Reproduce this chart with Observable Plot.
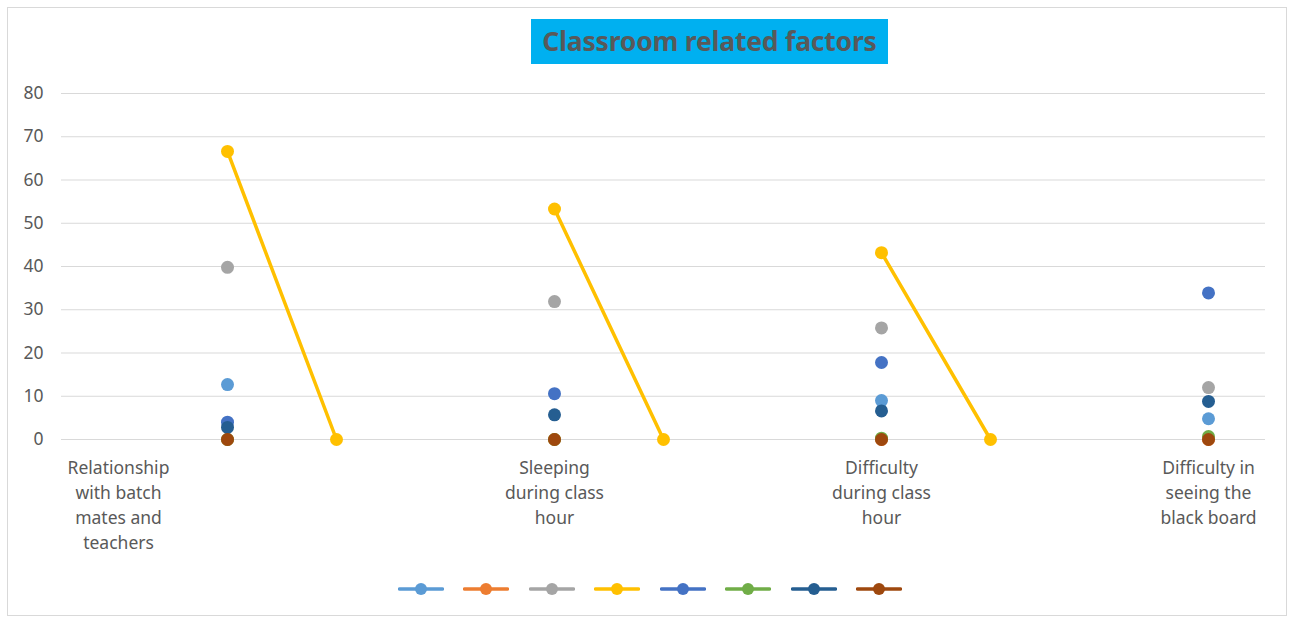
<!DOCTYPE html>
<html>
<head>
<meta charset="utf-8">
<script src="https://cdn.jsdelivr.net/npm/d3@7"></script>
<script src="https://cdn.jsdelivr.net/npm/@observablehq/plot@0.6"></script>
<style>
  html, body { margin: 0; padding: 0; background: #fff; }
  #wrap { position: relative; width: 1289px; height: 619px; overflow: hidden; font-family: "Noto Sans", sans-serif; }
  #frame { position: absolute; left: 7px; top: 7px; width: 1280px; height: 609px; border: 1px solid #d9d9d9; box-sizing: border-box; }
  #title { position: absolute; left: 531px; top: 19px; width: 357px; height: 45px; background: #00B0F0;
           color: #595959; font-weight: bold; font-size: 26.5px; line-height: 45px; text-align: center; white-space: nowrap; letter-spacing: -0.2px; }
  #chart { position: absolute; left: 0; top: 0; }
  #legend { position: absolute; left: 0; top: 578px; width: 1289px; height: 22px; display: flex; justify-content: center; gap: 19.5px; padding-left: 11px; box-sizing: border-box; }
  #legend svg { display: block; }
</style>
</head>
<body>
<div id="wrap">
  <div id="frame"></div>
  <div id="chart"></div>
  <div id="title">Classroom related factors</div>
  <div id="legend"></div>
</div>
<script>
// Category slots along the x axis (only some carry a label)
const categories = [
  "Relationship\nwith batch\nmates and\nteachers", "", "", "",
  "Sleeping\nduring class\nhour", "", "",
  "Difficulty\nduring class\nhour", "", "",
  "Difficulty in\nseeing the\nblack board"
];
const yTicks = [0, 10, 20, 30, 40, 50, 60, 70, 80];

// Series values per slot (null = no point)
const seriesLightBlue = [null, 12.7, null, null, null, null, null, 9.0, null, null, 4.8];
const seriesOrange    = [null, 0, null, null, 0, null, null, 0, null, null, 0];
const seriesGray      = [null, 39.8, null, null, 31.9, null, null, 25.8, null, null, 12.0];
const seriesYellow    = [null, 66.6, 0, null, 53.3, 0, null, 43.2, 0, null, null];
const seriesBlue      = [null, 4.0, null, null, 10.6, null, null, 17.8, null, null, 33.9];
const seriesGreen     = [null, 0, null, null, 0, null, null, 0.3, null, null, 0.7];
const seriesDarkBlue  = [null, 2.8, null, null, 5.7, null, null, 6.6, null, null, 8.8];
const seriesBrown     = [null, 0, null, null, 0, null, null, 0, null, null, 0];

const seriesNames = ["S1", "S2", "S3", "S4", "S5", "S6", "S7", "S8"];
const seriesColors = ["#5B9BD5", "#ED7D31", "#A5A5A5", "#FFC000", "#4472C4", "#70AD47", "#255E91", "#9E480E"];
const seriesValues = [seriesLightBlue, seriesOrange, seriesGray, seriesYellow, seriesBlue, seriesGreen, seriesDarkBlue, seriesBrown];

const slots = categories.map((_, i) => i);
const rows = [];
seriesValues.forEach((vals, s) => {
  vals.forEach((v, i) => rows.push({series: seriesNames[s], slot: i, value: v}));
});

const chart = Plot.plot({
  width: 1289,
  height: 570,
  marginLeft: 61,
  marginRight: 24,
  marginTop: 93,
  marginBottom: 131,
  style: { fontFamily: "Noto Sans, sans-serif", fontSize: "17.5px", color: "#595959", background: "transparent" },
  x: { type: "point", domain: slots, padding: 0.5 },
  y: { domain: [0, 80], ticks: yTicks },
  color: { domain: seriesNames, range: seriesColors },
  marks: [
    Plot.gridY(yTicks, { stroke: "#d9d9d9", strokeOpacity: 1, strokeWidth: 1 }),
    Plot.axisY(yTicks, { tickSize: 0, tickPadding: 18, label: null, fontSize: 17.5, fill: "#595959" }),
    Plot.axisX(slots, { tickSize: 0, tickPadding: 17, label: null, fontSize: 17.5, fill: "#595959",
      tickFormat: i => categories[i], lineHeight: 1.43 }),
    Plot.line(rows, { x: "slot", y: "value", z: "series", stroke: "series", strokeWidth: 3.5 }),
    Plot.dot(rows.filter(d => d.value != null), { x: "slot", y: "value", fill: "series", r: 6.5, stroke: null })
  ]
});
document.getElementById("chart").appendChild(chart);

// Legend: line + marker swatches, no text (as in the reference)
const legend = document.getElementById("legend");
seriesColors.forEach(c => {
  const ns = "http://www.w3.org/2000/svg";
  const svg = document.createElementNS(ns, "svg");
  svg.setAttribute("width", 46); svg.setAttribute("height", 22);
  const ln = document.createElementNS(ns, "line");
  ln.setAttribute("x1", 1.5); ln.setAttribute("x2", 44.5); ln.setAttribute("y1", 11); ln.setAttribute("y2", 11);
  ln.setAttribute("stroke", c); ln.setAttribute("stroke-width", 3.5); ln.setAttribute("stroke-linecap", "round");
  const ci = document.createElementNS(ns, "circle");
  ci.setAttribute("cx", 23); ci.setAttribute("cy", 11); ci.setAttribute("r", 6); ci.setAttribute("fill", c);
  svg.appendChild(ln); svg.appendChild(ci);
  legend.appendChild(svg);
});
</script>
</body>
</html>
